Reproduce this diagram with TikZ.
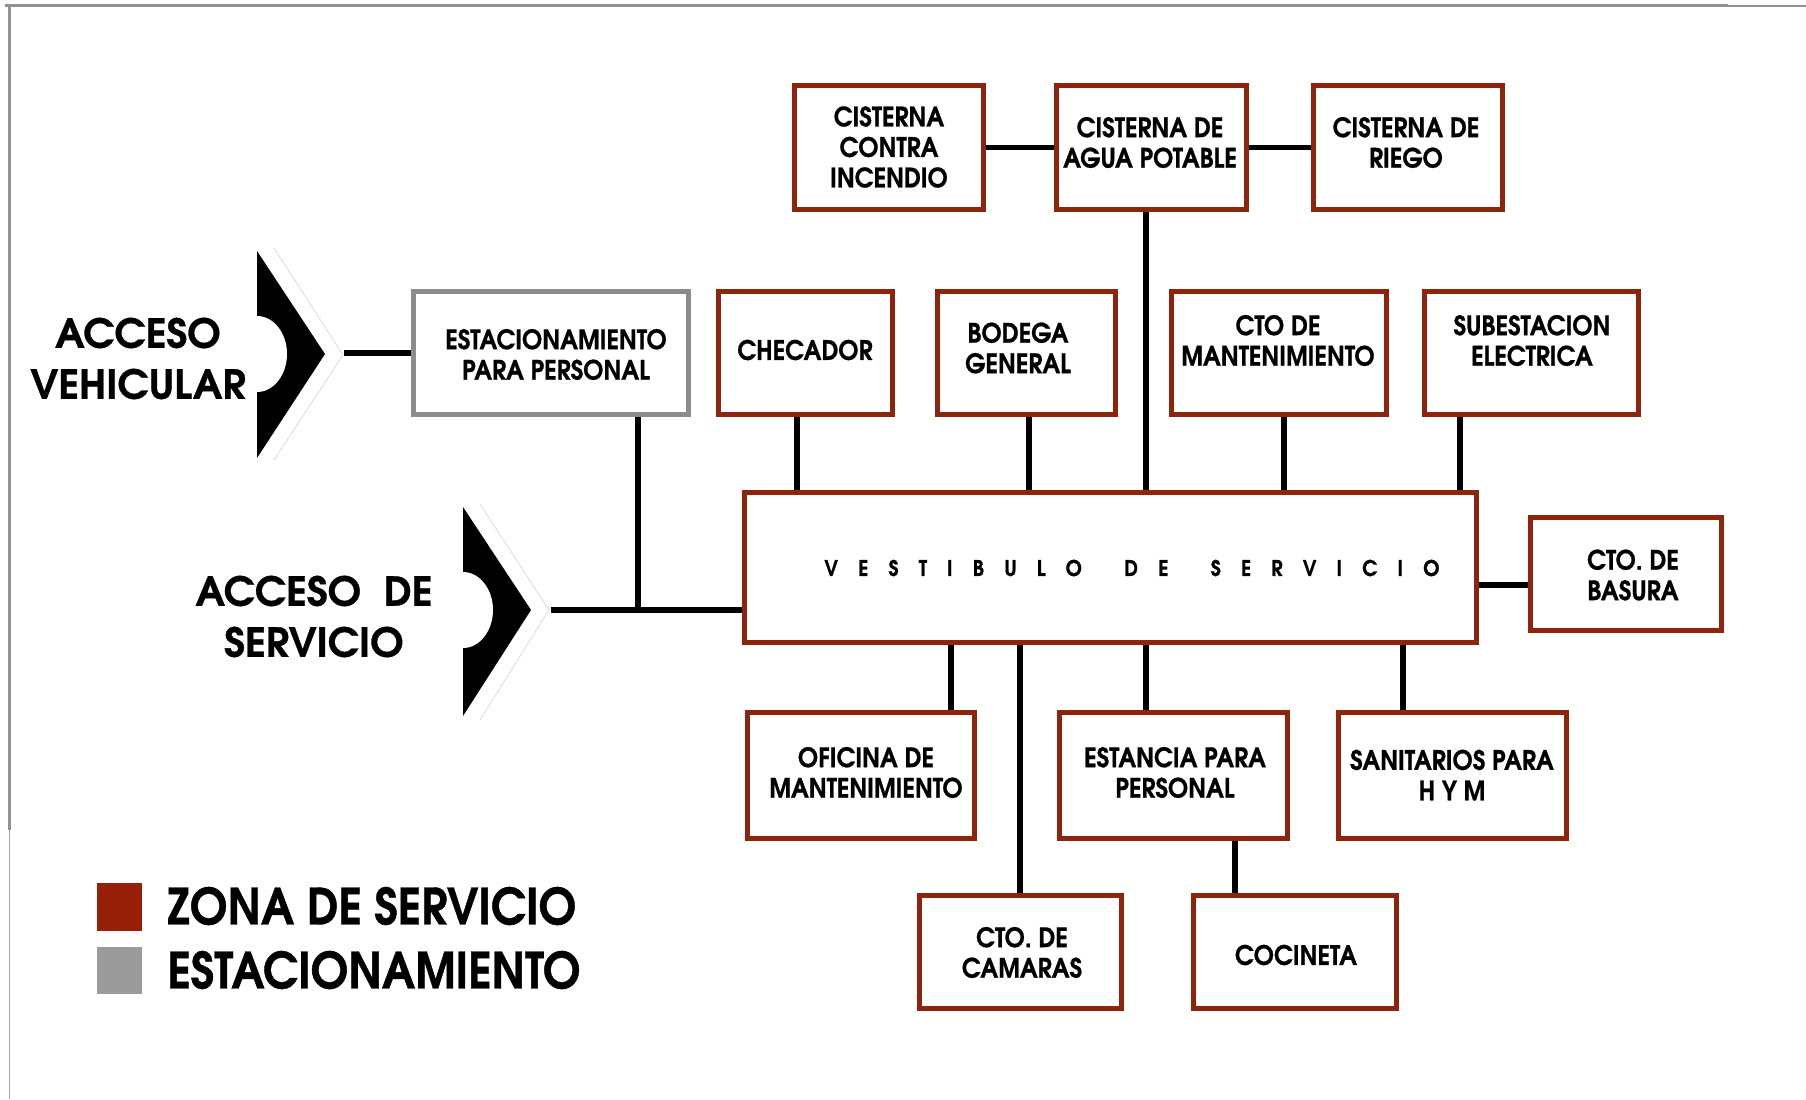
\documentclass[tikz,border=0pt]{standalone}
\usepackage{fontspec}
\newfontfamily\gothic{texgyreadventor-bold.otf}[FakeBold=0.8]
\newfontfamily\gothicn{texgyreadventor-bold.otf}[FakeStretch=0.9, FakeBold=0.8]
\definecolor{boxred}{RGB}{142,36,12}
\definecolor{legred}{RGB}{152,32,8}
\definecolor{boxgray}{RGB}{140,140,140}
\definecolor{leggray}{RGB}{155,155,155}
\definecolor{framegray}{RGB}{145,145,145}
\newcommand\mkbox[6]{\node[#6, minimum width={(#4-#2-5)*0.5pt}, minimum height={(#5-#3-5)*0.5pt}] (#1) at ({(#2+#4)/2},{(#3+#5)/2}) {};}
\newcommand\lsk{\kern10.1pt}
\newcommand\wsk{\kern21.2pt}
\begin{document}
\begin{tikzpicture}[x=0.5pt,y=-0.5pt,
  box/.style={rectangle, draw=boxred, line width=2.5pt, fill=white, inner sep=0pt, outer sep=1.25pt},
  gbox/.style={box, draw=boxgray},
  conn/.style={draw=black, line width=2.7pt},
  lbl/.style={font=\gothicn\fontsize{13.4}{15.25}\selectfont, align=center, inner sep=0pt},
  big/.style={font=\gothic\fontsize{20}{25.5}\selectfont, align=center, inner sep=0pt},
  leg/.style={font=\gothicn\fontsize{25}{30}\selectfont, anchor=west, inner sep=0pt},
  ghost/.style={draw=black!12, line width=0.5pt}
  ]
\useasboundingbox (0,0) rectangle (1806,1099);
% frame remnants
\draw[framegray, line width=1.5pt] (5,5.5) -- (1728,5.5);
\draw[framegray, line width=0.9pt] (1728,6) -- (1806,6);
\draw[framegray, line width=1.5pt] (9,5) -- (9,830);
\draw[framegray!80, line width=0.8pt] (9.5,830) -- (9.5,1099);

% boxes
\mkbox{cci}{792}{83}{986}{212}{box}
\mkbox{cap}{1054}{83}{1249}{212}{box}
\mkbox{cr}{1311}{83}{1505}{212}{box}
\mkbox{epp}{411}{289}{691}{417}{gbox}
\mkbox{che}{716}{289}{895}{417}{box}
\mkbox{bod}{935}{289}{1118}{417}{box}
\mkbox{ctm}{1169}{289}{1389}{417}{box}
\mkbox{sub}{1422}{289}{1641}{417}{box}
\mkbox{ves}{742}{490}{1479}{645}{box}
\mkbox{bas}{1528}{515}{1724}{633}{box}
\mkbox{ofi}{745}{710}{977}{841}{box}
\mkbox{est}{1057}{710}{1290}{841}{box}
\mkbox{san}{1336}{710}{1569}{841}{box}
\mkbox{cam}{917}{893}{1124}{1011}{box}
\mkbox{coc}{1191}{893}{1399}{1011}{box}

% helper coordinates
\coordinate (av) at (344,353);
\coordinate (as) at (551,610);
\coordinate (tj) at (638,610);
\coordinate (xche) at (797,0);
\coordinate (xbod) at (1029,0);
\coordinate (xcap) at (1146,0);
\coordinate (xctm) at (1284,0);
\coordinate (xsub) at (1460,0);
\coordinate (xofi) at (951,0);
\coordinate (xcam) at (1020,0);
\coordinate (xest) at (1146,0);
\coordinate (xsan) at (1403,0);
\coordinate (xcoc) at (1235,0);
\coordinate (ybas) at (0,585);

% connectors
\draw[conn] (cci.east) -- (cap.west);
\draw[conn] (cap.east) -- (cr.west);
\draw[conn] (cap.south -| xcap) -- (ves.north -| xcap);
\draw[conn] (che.south -| xche) -- (ves.north -| xche);
\draw[conn] (bod.south -| xbod) -- (ves.north -| xbod);
\draw[conn] (ctm.south -| xctm) -- (ves.north -| xctm);
\draw[conn] (sub.south -| xsub) -- (ves.north -| xsub);
\draw[conn] (av) -- (av -| epp.west);
\draw[conn] (epp.south -| tj) -- (tj);
\draw[conn] (as) -- (as -| ves.west);
\draw[conn] (ves.east |- ybas) -- (bas.west |- ybas);
\draw[conn] (ves.south -| xofi) -- (ofi.north -| xofi);
\draw[conn] (ves.south -| xcam) -- (cam.north -| xcam);
\draw[conn] (ves.south -| xest) -- (est.north -| xest);
\draw[conn] (ves.south -| xsan) -- (san.north -| xsan);
\draw[conn] (est.south -| xcoc) -- (coc.north -| xcoc);

% access chevrons
\draw[ghost] (274,248) -- (343,355) -- (274,460);
\fill[black] (257,251) -- (325,354) -- (257,458) -- cycle;
\fill[white] (257,354) ellipse [x radius=30, y radius=38];
\draw[ghost] (480,504) -- (549,610) -- (480,720);
\fill[black] (463,507) -- (531,610) -- (463,716) -- cycle;
\fill[white] (463,610) ellipse [x radius=30, y radius=38];

% labels
\node[lbl] (tcci) at (889,147) {CISTERNA\\CONTRA\\INCENDIO};
\node[lbl] (tcap) at (1150,142.5) {CISTERNA DE\\AGUA POTABLE};
\node[lbl] (tcr) at (1406,142.5) {CISTERNA DE\\RIEGO};
\node[lbl] (tepp) at (556,354.5) {ESTACIONAMIENTO\\PARA PERSONAL};
\node[lbl] (tche) at (805,350) {CHECADOR};
\node[lbl] (tbod) at (1018,348) {BODEGA\\GENERAL};
\node[lbl] (tctm) at (1278,340.5) {CTO DE\\MANTENIMIENTO};
\node[lbl] (tsub) at (1532,340.5) {SUBESTACION\\ELECTRICA};
\node[lbl, font=\gothicn\fontsize{10.8}{12}\selectfont] (tves) at (1132,568) {V\lsk E\lsk S\lsk T\lsk I\lsk B\lsk U\lsk L\lsk O\wsk D\lsk E\wsk S\lsk E\lsk R\lsk V\lsk I\lsk C\lsk I\lsk O};
\node[lbl] (tbas) at (1633,575) {CTO. DE\\BASURA};
\node[lbl] (tofi) at (866,772.5) {OFICINA DE\\MANTENIMIENTO};
\node[lbl] (test) at (1175,772.5) {ESTANCIA PARA\\PERSONAL};
\node[lbl] (tsan) at (1452,775) {SANITARIOS PARA\\H Y M};
\node[lbl] (tcam) at (1022,952.5) {CTO. DE\\CAMARAS};
\node[lbl] (tcoc) at (1296,955) {COCINETA};

\node[big] (tav) at (138,358.5) {ACCESO\\VEHICULAR};
\node[big] (tas) at (314,616.5) {ACCESO\ \ DE\\SERVICIO};

% legend
\fill[legred] (97,883) rectangle (142,931);
\fill[leggray] (97,947) rectangle (142,994);
\node[leg] (lz) at (167,906) {ZONA DE SERVICIO};
\node[leg] (le) at (167,970) {ESTACIONAMIENTO};
\end{tikzpicture}
\end{document}
